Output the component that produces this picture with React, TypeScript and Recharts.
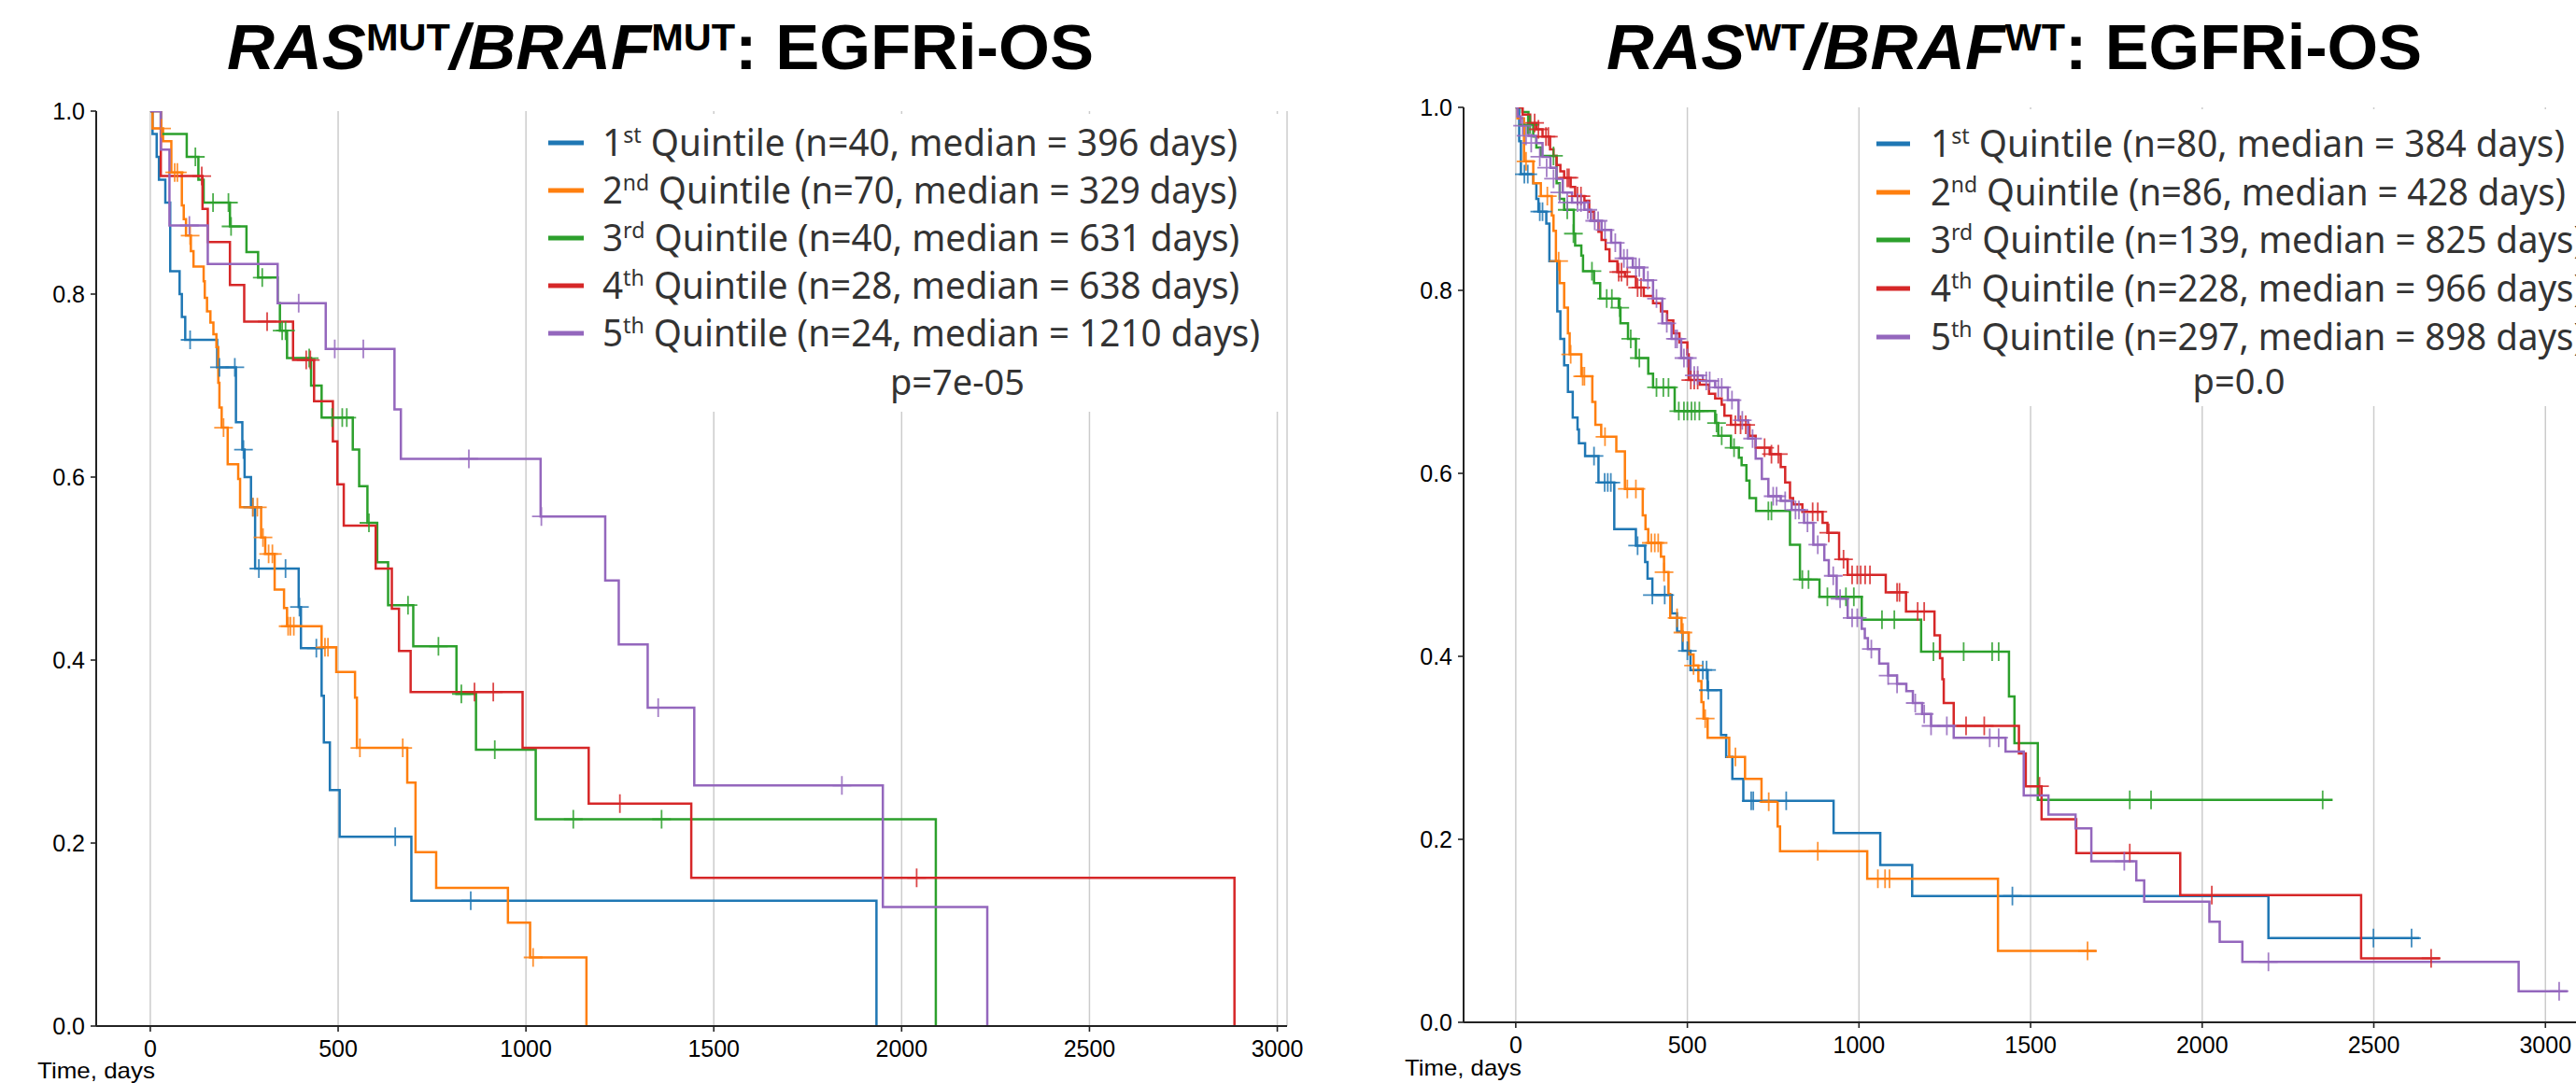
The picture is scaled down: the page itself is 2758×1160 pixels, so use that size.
import { ComposedChart, Line, Scatter, XAxis, YAxis, CartesianGrid } from 'recharts';

const COLORS = ['#1f77b4', '#ff7f0e', '#2ca02c', '#d62728', '#9467bd'];
const xTicks = [0, 500, 1000, 1500, 2000, 2500, 3000];
const yTicks = [0, 0.2, 0.4, 0.6, 0.8, 1.0];

// legend text
const ordinals = ['1', '2', '3', '4', '5'];
const suffixes = ['st', 'nd', 'rd', 'th', 'th'];
const mutN = [40, 70, 40, 28, 24];
const mutMedian = [396, 329, 631, 638, 1210];
const wtN = [80, 86, 139, 228, 297];
const wtMedian = [384, 428, 825, 966, 898];

// RAS-MUT / BRAF-MUT panel: [day, survival]
const mutQ1 = [[0, 1], [6, 0.975], [17, 0.95], [23, 0.925], [40, 0.9], [53, 0.825], [78, 0.8], [84, 0.775], [93, 0.75], [178, 0.72], [228, 0.66], [245, 0.63], [251, 0.6], [268, 0.567], [279, 0.5], [395, 0.458], [401, 0.413], [456, 0.361], [462, 0.31], [478, 0.258], [504, 0.207], [695, 0.137], [1933, 0]];
const mutQ1Cens = [[106, 0.75], [184, 0.72], [225, 0.72], [248, 0.63], [273, 0.567], [289, 0.5], [360, 0.5], [397, 0.458], [442, 0.413], [652, 0.207], [853, 0.137]];
const mutQ2 = [[0, 1], [6, 0.981], [34, 0.967], [56, 0.933], [84, 0.897], [89, 0.882], [95, 0.864], [108, 0.847], [115, 0.83], [142, 0.814], [145, 0.796], [151, 0.781], [160, 0.769], [168, 0.756], [176, 0.742], [181, 0.703], [184, 0.676], [190, 0.654], [206, 0.614], [234, 0.598], [239, 0.567], [295, 0.534], [306, 0.516], [331, 0.477], [356, 0.457], [364, 0.437], [456, 0.414], [495, 0.387], [545, 0.359], [550, 0.304], [684, 0.266], [706, 0.19], [761, 0.151], [952, 0.113], [1011, 0.075], [1161, 0]];
const mutQ2Cens = [[30, 0.981], [65, 0.933], [72, 0.933], [106, 0.864], [195, 0.654], [273, 0.567], [285, 0.567], [300, 0.534], [315, 0.516], [325, 0.516], [367, 0.437], [373, 0.437], [382, 0.437], [465, 0.414], [473, 0.414], [558, 0.304], [672, 0.304], [1019, 0.075]];
const mutQ3 = [[0, 1], [28, 0.975], [97, 0.95], [128, 0.925], [142, 0.9], [212, 0.874], [256, 0.846], [287, 0.818], [339, 0.79], [345, 0.76], [364, 0.73], [428, 0.7], [456, 0.665], [539, 0.63], [556, 0.59], [578, 0.55], [604, 0.507], [633, 0.46], [700, 0.415], [815, 0.363], [867, 0.302], [1026, 0.226], [2091, 0]];
const mutQ3Cens = [[120, 0.95], [167, 0.9], [208, 0.9], [215, 0.874], [298, 0.818], [351, 0.76], [360, 0.76], [423, 0.73], [484, 0.665], [511, 0.665], [523, 0.665], [582, 0.55], [686, 0.46], [767, 0.415], [828, 0.363], [917, 0.302], [1126, 0.226], [1361, 0.226]];
const mutQ4 = [[0, 1], [28, 0.929], [139, 0.893], [153, 0.857], [212, 0.81], [250, 0.77], [380, 0.728], [436, 0.683], [486, 0.639], [498, 0.592], [515, 0.547], [600, 0.5], [643, 0.456], [662, 0.41], [693, 0.365], [991, 0.304], [1167, 0.243], [1440, 0.162], [2886, 0]];
const mutQ4Cens = [[137, 0.929], [311, 0.77], [415, 0.728], [426, 0.728], [863, 0.365], [913, 0.365], [1250, 0.243], [2040, 0.162]];
const mutQ5 = [[0, 1], [28, 0.958], [51, 0.875], [153, 0.833], [339, 0.79], [467, 0.74], [650, 0.674], [667, 0.62], [1039, 0.557], [1211, 0.487], [1247, 0.417], [1324, 0.348], [1448, 0.263], [1950, 0.13], [2228, 0]];
const mutQ5Cens = [[104, 0.875], [395, 0.79], [491, 0.74], [567, 0.74], [848, 0.62], [1041, 0.557], [1352, 0.348], [1841, 0.263]];

// RAS-WT / BRAF-WT panel
const wtQ1 = [[0, 1], [10, 0.963], [15, 0.927], [51, 0.917], [60, 0.9], [66, 0.886], [89, 0.873], [98, 0.832], [121, 0.777], [130, 0.747], [141, 0.718], [152, 0.689], [166, 0.661], [180, 0.648], [184, 0.633], [202, 0.619], [241, 0.59], [287, 0.539], [350, 0.521], [377, 0.503], [384, 0.485], [398, 0.467], [454, 0.447], [470, 0.427], [486, 0.406], [509, 0.385], [559, 0.363], [598, 0.314], [613, 0.29], [631, 0.266], [663, 0.242], [926, 0.207], [1062, 0.172], [1155, 0.138], [2193, 0.092], [2633, 0.092]];
const wtQ1Cens = [[25, 0.927], [35, 0.927], [70, 0.886], [78, 0.886], [228, 0.619], [259, 0.59], [268, 0.59], [277, 0.59], [355, 0.521], [398, 0.467], [434, 0.467], [500, 0.406], [545, 0.385], [556, 0.385], [561, 0.363], [686, 0.242], [692, 0.242], [788, 0.242], [1447, 0.138], [2499, 0.092], [2610, 0.092]];
const wtQ2 = [[0, 1], [5, 0.988], [24, 0.941], [51, 0.917], [73, 0.903], [105, 0.882], [110, 0.865], [117, 0.832], [128, 0.808], [141, 0.781], [152, 0.753], [157, 0.73], [191, 0.706], [223, 0.678], [232, 0.653], [249, 0.64], [293, 0.624], [318, 0.583], [370, 0.554], [378, 0.539], [386, 0.524], [423, 0.509], [432, 0.492], [445, 0.468], [450, 0.442], [483, 0.426], [504, 0.402], [518, 0.39], [532, 0.373], [541, 0.35], [547, 0.332], [559, 0.311], [622, 0.29], [668, 0.266], [716, 0.241], [763, 0.214], [770, 0.187], [1024, 0.157], [1405, 0.078], [1692, 0.078]];
const wtQ2Cens = [[30, 0.941], [92, 0.903], [125, 0.832], [160, 0.73], [195, 0.706], [200, 0.706], [260, 0.64], [325, 0.583], [350, 0.583], [395, 0.524], [405, 0.524], [415, 0.524], [432, 0.492], [470, 0.442], [487, 0.426], [518, 0.39], [552, 0.332], [640, 0.29], [737, 0.241], [880, 0.187], [1055, 0.157], [1076, 0.157], [1089, 0.157], [1666, 0.078]];
const wtQ3 = [[0, 1], [19, 0.995], [37, 0.981], [51, 0.968], [60, 0.956], [73, 0.947], [119, 0.917], [128, 0.9], [141, 0.888], [169, 0.862], [173, 0.849], [191, 0.838], [196, 0.821], [228, 0.808], [246, 0.791], [300, 0.781], [305, 0.764], [327, 0.747], [350, 0.726], [386, 0.709], [400, 0.694], [463, 0.668], [581, 0.655], [590, 0.641], [627, 0.628], [650, 0.617], [658, 0.609], [672, 0.592], [681, 0.573], [700, 0.559], [799, 0.522], [828, 0.484], [885, 0.465], [1008, 0.44], [1181, 0.405], [1437, 0.356], [1453, 0.305], [1521, 0.243], [2380, 0.243]];
const wtQ3Cens = [[35, 0.981], [42, 0.981], [110, 0.947], [150, 0.888], [168, 0.862], [222, 0.821], [265, 0.791], [280, 0.791], [303, 0.781], [335, 0.747], [360, 0.726], [410, 0.694], [430, 0.694], [445, 0.694], [475, 0.668], [490, 0.668], [500, 0.668], [512, 0.668], [522, 0.668], [535, 0.668], [585, 0.655], [600, 0.641], [636, 0.628], [736, 0.559], [745, 0.559], [835, 0.484], [853, 0.484], [908, 0.465], [962, 0.465], [985, 0.465], [1067, 0.44], [1103, 0.44], [1217, 0.405], [1305, 0.405], [1388, 0.405], [1407, 0.405], [1789, 0.243], [1851, 0.243], [2351, 0.243]];
const wtQ4 = [[0, 1], [20, 0.992], [42, 0.983], [60, 0.976], [78, 0.968], [100, 0.954], [110, 0.947], [119, 0.937], [130, 0.93], [141, 0.923], [160, 0.913], [173, 0.903], [200, 0.898], [214, 0.886], [228, 0.876], [241, 0.864], [250, 0.855], [262, 0.845], [273, 0.832], [296, 0.82], [318, 0.815], [350, 0.803], [373, 0.794], [400, 0.786], [423, 0.777], [441, 0.767], [459, 0.753], [477, 0.743], [500, 0.73], [504, 0.702], [536, 0.697], [563, 0.687], [581, 0.682], [600, 0.675], [608, 0.663], [627, 0.653], [681, 0.641], [699, 0.628], [740, 0.621], [772, 0.607], [785, 0.59], [799, 0.573], [808, 0.566], [835, 0.558], [894, 0.546], [908, 0.535], [942, 0.506], [967, 0.489], [1078, 0.47], [1137, 0.449], [1220, 0.423], [1236, 0.398], [1243, 0.375], [1247, 0.349], [1276, 0.324], [1466, 0.294], [1486, 0.258], [1532, 0.222], [1633, 0.185], [1936, 0.139], [2463, 0.07], [2693, 0.07]];
const wtQ4Cens = [[55, 0.983], [66, 0.976], [88, 0.968], [95, 0.968], [150, 0.923], [155, 0.923], [180, 0.903], [190, 0.903], [300, 0.82], [308, 0.82], [325, 0.815], [355, 0.803], [365, 0.803], [510, 0.702], [520, 0.702], [530, 0.702], [640, 0.653], [655, 0.653], [670, 0.653], [725, 0.628], [745, 0.621], [765, 0.621], [865, 0.558], [880, 0.558], [912, 0.535], [955, 0.506], [980, 0.489], [995, 0.489], [1005, 0.489], [1018, 0.489], [1032, 0.489], [1111, 0.47], [1118, 0.47], [1171, 0.449], [1190, 0.449], [1312, 0.324], [1365, 0.324], [1526, 0.258], [1789, 0.185], [2028, 0.139], [2667, 0.07]];
const wtQ5 = [[0, 1], [5, 0.99], [14, 0.98], [37, 0.969], [60, 0.961], [78, 0.946], [101, 0.934], [119, 0.922], [137, 0.907], [164, 0.896], [200, 0.888], [219, 0.876], [250, 0.866], [278, 0.852], [305, 0.835], [341, 0.825], [373, 0.811], [400, 0.791], [427, 0.764], [454, 0.747], [482, 0.726], [509, 0.707], [545, 0.701], [581, 0.694], [618, 0.68], [649, 0.658], [677, 0.638], [699, 0.616], [717, 0.594], [736, 0.575], [772, 0.57], [804, 0.56], [840, 0.546], [867, 0.522], [899, 0.505], [912, 0.488], [935, 0.463], [967, 0.442], [1008, 0.43], [1017, 0.42], [1026, 0.408], [1059, 0.392], [1085, 0.379], [1111, 0.37], [1138, 0.362], [1157, 0.349], [1184, 0.337], [1210, 0.324], [1276, 0.311], [1427, 0.296], [1480, 0.248], [1552, 0.227], [1631, 0.212], [1677, 0.176], [1808, 0.155], [1831, 0.132], [2021, 0.11], [2051, 0.088], [2117, 0.066], [2922, 0.034], [3064, 0.034]];
const wtQ5Cens = [[20, 0.98], [30, 0.969], [45, 0.961], [70, 0.946], [90, 0.934], [110, 0.922], [128, 0.907], [150, 0.896], [180, 0.896], [190, 0.896], [210, 0.888], [230, 0.876], [240, 0.876], [260, 0.866], [290, 0.852], [315, 0.835], [325, 0.835], [350, 0.825], [360, 0.825], [385, 0.811], [410, 0.791], [440, 0.764], [465, 0.747], [470, 0.747], [490, 0.726], [500, 0.726], [520, 0.707], [530, 0.707], [555, 0.701], [565, 0.701], [590, 0.694], [600, 0.694], [630, 0.68], [660, 0.658], [690, 0.638], [750, 0.575], [760, 0.575], [785, 0.57], [815, 0.56], [825, 0.56], [850, 0.546], [880, 0.522], [925, 0.488], [945, 0.463], [980, 0.442], [995, 0.442], [1036, 0.408], [1085, 0.379], [1111, 0.37], [1164, 0.349], [1190, 0.337], [1210, 0.324], [1256, 0.324], [1381, 0.311], [1407, 0.311], [1773, 0.176], [2193, 0.066], [3040, 0.034]];

const mutCurves = [mutQ1, mutQ2, mutQ3, mutQ4, mutQ5];
const mutCens = [mutQ1Cens, mutQ2Cens, mutQ3Cens, mutQ4Cens, mutQ5Cens];
const wtCurves = [wtQ1, wtQ2, wtQ3, wtQ4, wtQ5];
const wtCens = [wtQ1Cens, wtQ2Cens, wtQ3Cens, wtQ4Cens, wtQ5Cens];

const toPts = (a: number[][]) => a.map(([t, s]) => ({ t, s }));

const plusShape = (color: string) => (props: any) => {
  const { cx, cy } = props;
  if (cx == null || cy == null) return <g />;
  return (
    <path
      d={`M${cx - 10},${cy}H${cx + 10}M${cx},${cy - 10}V${cy + 10}`}
      stroke={color}
      strokeWidth={1.8}
      strokeOpacity={0.85}
      fill="none"
    />
  );
};

const AXIS = { stroke: '#222', strokeWidth: 2 };
const TICK_FONT = "'Liberation Sans', Arial, sans-serif";

function KMPanel({ left, width, margin, domain, curves, censors }: any) {
  return (
    <div style={{ position: 'absolute', left, top: 0 }}>
      <ComposedChart width={width} height={1160} margin={margin}>
        <CartesianGrid horizontal={false} stroke="#cccccc" strokeWidth={1.5} />
        <XAxis
          dataKey="t"
          type="number"
          domain={domain}
          allowDataOverflow
          ticks={xTicks}
          height={40}
          tickSize={6}
          tickMargin={9}
          axisLine={AXIS}
          tickLine={{ stroke: '#222', strokeWidth: 1.6 }}
          tick={{ fill: '#000', fontSize: 25, fontFamily: TICK_FONT }}
        />
        <XAxis
          xAxisId="top"
          orientation="top"
          type="number"
          domain={domain}
          allowDataOverflow
          height={0}
          tick={false}
          tickLine={false}
          axisLine={AXIS}
        />
        <YAxis
          type="number"
          domain={[0, 1]}
          allowDataOverflow
          ticks={yTicks}
          tickFormatter={(v: number) => v.toFixed(1)}
          width={60}
          tickSize={6}
          tickMargin={6}
          axisLine={AXIS}
          tickLine={{ stroke: '#222', strokeWidth: 1.6 }}
          tick={{ fill: '#000', fontSize: 25, fontFamily: TICK_FONT }}
        />
        <YAxis
          yAxisId="right"
          orientation="right"
          type="number"
          domain={[0, 1]}
          width={0}
          tick={false}
          tickLine={false}
          axisLine={AXIS}
        />
        {curves.map((c: number[][], i: number) => [
          <Line
            key={'l' + i}
            data={toPts(c)}
            dataKey="s"
            type="stepAfter"
            stroke={COLORS[i]}
            strokeWidth={2.5}
            dot={false}
            activeDot={false}
            isAnimationActive={false}
          />,
          <Scatter
            key={'c' + i}
            data={toPts(censors[i])}
            dataKey="s"
            shape={plusShape(COLORS[i])}
            isAnimationActive={false}
          />,
        ])}
      </ComposedChart>
    </div>
  );
}

function Legend({ box, handleX, textX, baselines, widths, ns, medians, pText, pX, pY }: any) {
  return (
    <g>
      <rect x={box[0]} y={box[1]} width={box[2]} height={box[3]} fill="#fff" />
      {ordinals.map((o, i) => (
        <g key={i}>
          <line x1={handleX[0]} x2={handleX[1]} y1={baselines[i] - 14} y2={baselines[i] - 14} stroke={COLORS[i]} strokeWidth={5} />
          <text
            x={textX}
            y={baselines[i]}
            textLength={widths[i]}
            lengthAdjust="spacingAndGlyphs"
            fontFamily="'Noto Sans', sans-serif"
            fontSize={40}
            fill="#333"
          >
            {o}
            <tspan fontSize={24} dy={-14}>{suffixes[i]}</tspan>
            <tspan dy={14}>{` Quintile (n=${ns[i]}, median = ${medians[i]} days)`}</tspan>
          </text>
        </g>
      ))}
      <text x={pX} y={pY} textAnchor="middle" fontFamily="'Noto Sans', sans-serif" fontSize={38} fill="#333">
        {pText}
      </text>
    </g>
  );
}

function Title({ x, width, tag }: any) {
  return (
    <text
      x={x}
      y={74}
      textLength={width}
      lengthAdjust="spacingAndGlyphs"
      fontFamily={TICK_FONT}
      fontWeight="bold"
      fontSize={68}
      fill="#000"
    >
      <tspan fontStyle="italic">RAS</tspan>
      <tspan fontSize={40} dy={-20}>{tag}</tspan>
      <tspan dy={20} fontStyle="italic">/BRAF</tspan>
      <tspan fontSize={40} dy={-20}>{tag}</tspan>
      <tspan dy={20}>: EGFRi-OS</tspan>
    </text>
  );
}

export default function App() {
  return (
    <div style={{ position: 'absolute', left: 0, top: 0, width: 2758, height: 1160, overflow: 'hidden', background: '#fff' }}>
      <KMPanel
        left={0}
        width={1400}
        margin={{ top: 119, right: 22, bottom: 21, left: 43 }}
        domain={[-144, 3026]}
        curves={mutCurves}
        censors={mutCens}
      />
      <KMPanel
        left={1440}
        width={1400}
        margin={{ top: 115, right: 35, bottom: 25, left: 67 }}
        domain={[-152, 3217]}
        curves={wtCurves}
        censors={wtCens}
      />
      <svg width={2758} height={1160} style={{ position: 'absolute', left: 0, top: 0, pointerEvents: 'none' }}>
        <Title x={243} width={928} tag="MUT" />
        <Title x={1720} width={873} tag="WT" />
        <Legend
          box={[572, 122, 800, 319]}
          handleX={[587, 625]}
          textX={645}
          baselines={[167, 218, 269, 320, 371]}
          widths={[680, 680, 682, 682, 704]}
          ns={mutN}
          medians={mutMedian}
          pText="p=7e-05"
          pX={1025}
          pY={423}
        />
        <Legend
          box={[1998, 117, 800, 318]}
          handleX={[2009, 2045]}
          textX={2067}
          baselines={[168, 220, 271, 323, 375]}
          widths={[679, 680, 700, 700, 700]}
          ns={wtN}
          medians={wtMedian}
          pText="p=0.0"
          pX={2397}
          pY={422}
        />
        <text x={40} y={1155} textLength={126} lengthAdjust="spacingAndGlyphs" fontFamily={TICK_FONT} fontSize={24} fill="#000">
          Time, days
        </text>
        <text x={1504} y={1152} textLength={125} lengthAdjust="spacingAndGlyphs" fontFamily={TICK_FONT} fontSize={24} fill="#000">
          Time, days
        </text>
      </svg>
    </div>
  );
}
